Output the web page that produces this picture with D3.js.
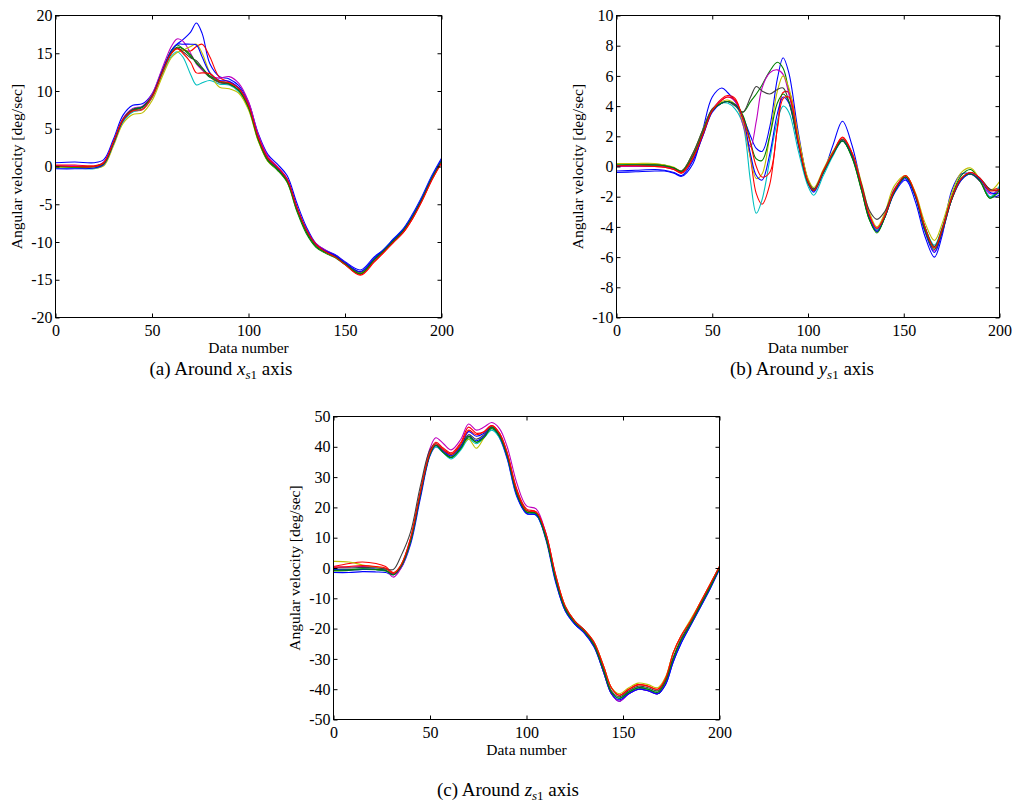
<!DOCTYPE html>
<html>
<head>
	<meta charset="UTF-8">
	<title>angular velocity</title>
	<style>
html, body {
	margin:0;padding:0;background:#fff;
}
text {
	font-family: "Liberation Serif", "Times New Roman", serif;
	fill: #000;
}
.axis text {font-size: 16px; font-family: "Liberation Serif", "Times New Roman", serif;}
.axis line {stroke: #000; stroke-width: 1;}
.axis path {display: none;}
.label {font-size: 15.5px;}
.caption {font-size: 19px;}
	</style>
	<script src="https://cdnjs.cloudflare.com/ajax/libs/d3/7.8.5/d3.min.js"></script>
</head>
<body>
<script>
// MATLAB (old) default line colour order, cycled
const COLORS = ['#0000ff', '#008000', '#ff0000', '#00bfbf', '#bf00bf', '#bfbf00', '#404040', '#0000ff', '#008000', '#ff0000'];
const X_TICKS = [0, 50, 100, 150, 200];
const Y_TICKS_A = [-20, -15, -10, -5, 0, 5, 10, 15, 20];
const Y_TICKS_B = [-10, -8, -6, -4, -2, 0, 2, 4, 6, 8, 10];
const Y_TICKS_C = [-50, -40, -30, -20, -10, 0, 10, 20, 30, 40, 50];

// (a) around x_s1 axis
const xsA = [0,10,20,25,30,35,40,45,50,55,60,63,66,70,73,76,80,85,90,95,100,105,110,115,120,125,130,135,140,145,150,158,165,170,175,180,185,190,195,200];
const a1 = [0.5,0.6,0.5,0.9,3.6,6.8,8.1,8.3,9.6,12.6,15.3,16.2,16.8,17.8,19.0,17.6,13.6,11.9,11.6,10.7,8.5,4.4,1.6,0.3,-1.2,-4.8,-8.0,-10.2,-11.1,-11.7,-12.6,-13.7,-12.0,-11.0,-9.6,-8.3,-6.3,-3.9,-1.2,1.1];
const a2 = [0.1,-0.1,-0.2,0.3,3.0,6.0,7.4,7.8,9.2,12.3,15.4,16.1,15.6,14.6,13.8,12.8,11.8,11.2,10.9,10.0,7.7,3.5,0.7,-0.5,-2.1,-5.9,-8.9,-10.7,-11.5,-12.1,-13.0,-14.2,-12.4,-11.1,-9.8,-8.6,-6.7,-4.3,-1.6,0.7];
const a3 = [0.2,0.2,0.1,0.5,3.1,6.1,7.3,7.5,9.1,12.1,14.9,15.6,15.4,15.3,15.9,16.2,14.5,11.8,11.2,10.4,8.2,4.0,1.2,-0.1,-1.7,-5.3,-8.4,-10.3,-11.2,-11.9,-12.9,-14.3,-12.6,-11.4,-10.0,-8.8,-6.9,-4.5,-1.8,0.5];
const a4 = [-0.2,-0.2,-0.3,0.2,2.9,5.9,7.2,7.6,9.1,12.0,14.6,15.2,14.5,12.2,10.8,11.1,11.4,10.9,10.8,9.9,7.7,3.6,0.9,-0.3,-1.9,-5.6,-8.6,-10.5,-11.4,-12.0,-12.9,-14.1,-12.3,-11.0,-9.7,-8.4,-6.5,-4.1,-1.4,0.8];
const a5 = [0.1,0.1,0.0,0.6,3.3,6.4,7.7,8.0,9.6,12.8,15.9,16.9,16.6,15.0,13.6,12.8,12.0,11.7,11.9,11.0,8.6,4.3,1.4,0.0,-1.6,-5.3,-8.3,-10.2,-11.1,-11.8,-12.7,-14.0,-12.4,-11.2,-9.9,-8.7,-6.8,-4.4,-1.7,0.6];
const a6 = [-0.1,-0.1,-0.2,0.1,2.7,5.7,6.9,7.1,8.7,11.7,14.4,15.1,15.4,15.9,16.2,15.0,12.4,10.5,10.3,9.7,7.5,3.4,0.7,-0.4,-2.0,-5.6,-8.6,-10.5,-11.4,-12.0,-12.9,-14.1,-12.3,-11.1,-9.8,-8.5,-6.6,-4.2,-1.5,0.8];
const a7 = [0.0,0.0,0.0,0.5,3.2,6.3,7.6,7.9,9.3,12.3,15.1,15.7,15.2,14.4,14.0,13.1,11.9,11.1,10.9,10.1,7.9,3.7,0.9,-0.3,-1.9,-5.5,-8.5,-10.4,-11.3,-11.9,-12.8,-14.0,-12.3,-11.1,-9.8,-8.5,-6.6,-4.2,-1.5,0.8];
const a8 = [-0.3,-0.3,-0.2,0.3,3.0,6.1,7.5,7.9,9.3,12.4,15.3,16.2,16.2,16.2,16.1,14.5,12.4,11.4,11.3,10.4,8.1,3.9,1.1,-0.2,-1.7,-5.4,-8.4,-10.3,-11.2,-11.8,-12.7,-13.9,-12.2,-11.0,-9.7,-8.4,-6.5,-4.1,-1.4,0.9];
const a9 = [0.0,-0.1,0.0,0.4,3.1,6.2,7.5,7.9,9.3,12.3,15.0,15.8,15.6,14.8,13.7,13.0,12.0,11.3,11.0,10.1,7.8,3.6,0.8,-0.4,-2.0,-5.7,-8.7,-10.6,-11.4,-12.0,-12.9,-14.2,-12.4,-11.2,-9.9,-8.6,-6.7,-4.3,-1.6,0.7];
const a10 = [0.1,0.0,0.0,0.5,3.2,6.2,7.4,7.6,9.2,12.2,15.0,15.6,15.0,13.8,12.4,12.4,12.3,11.3,11.1,10.3,8.1,3.9,1.1,-0.1,-1.7,-5.4,-8.4,-10.3,-11.3,-12.0,-13.0,-14.4,-12.7,-11.4,-10.1,-8.8,-6.9,-4.5,-1.8,0.5];

// (b) around y_s1 axis
const xsB = [0,10,20,25,30,34,40,45,50,55,58,62,66,70,73,76,80,84,87,90,95,100,103,108,113,118,123,128,132,136,140,145,151,156,161,166,170,175,180,185,190,195,200];
const b1 = [-0.4,-0.35,-0.3,-0.3,-0.45,-0.65,0.2,2.4,4.6,5.2,4.9,4.3,3.3,2.0,1.2,1.0,2.6,5.8,7.2,6.2,2.2,-0.9,-1.5,-0.4,1.4,3.0,1.4,-1.3,-3.4,-4.3,-3.4,-1.8,-0.9,-2.3,-4.6,-6.0,-4.6,-1.6,-0.5,-0.5,-1.0,-2.0,-1.9];
const b2 = [0.1,0.15,0.15,0.1,-0.1,-0.4,0.7,2.2,3.7,4.2,4.3,4.1,3.6,4.3,4.8,5.4,6.3,6.9,6.5,5.0,1.9,-0.9,-1.5,-0.4,0.8,1.7,0.6,-1.6,-3.5,-4.3,-3.4,-1.7,-0.7,-1.8,-4.0,-5.3,-4.2,-2.0,-0.6,-0.2,-1.0,-2.1,-1.4];
const b3 = [0.0,0.0,0.0,-0.05,-0.2,-0.45,0.5,2.0,3.7,4.5,4.7,4.5,3.0,0.5,-1.8,-2.5,-1.2,2.6,4.9,4.9,1.8,-1.1,-1.6,-0.3,0.9,1.95,0.9,-1.3,-3.2,-4.2,-3.3,-1.6,-0.6,-1.8,-4.0,-5.4,-4.2,-2.2,-0.9,-0.4,-0.8,-1.5,-1.4];
const b4 = [0.1,0.1,0.05,0.0,-0.1,-0.3,0.9,2.4,3.8,4.2,4.2,3.8,2.8,-1.0,-3.1,-2.2,0.4,3.0,4.0,3.6,1.0,-1.3,-1.9,-0.6,0.7,1.7,0.7,-1.5,-3.3,-4.2,-3.3,-1.6,-0.7,-1.9,-4.0,-5.2,-4.1,-2.1,-0.9,-0.5,-1.0,-2.0,-1.3];
const b5 = [0.0,0.0,0.05,0.0,-0.15,-0.35,0.8,2.3,3.8,4.4,4.6,4.3,2.8,1.3,3.0,5.2,6.2,6.4,6.1,4.8,1.9,-1.0,-1.6,-0.3,0.9,1.8,0.8,-1.4,-3.3,-4.1,-3.2,-1.5,-0.7,-1.9,-4.2,-5.6,-4.4,-2.2,-0.8,-0.5,-1.0,-1.8,-1.6];
const b6 = [0.2,0.2,0.2,0.1,-0.05,-0.3,0.9,2.4,3.8,4.3,4.4,4.1,3.0,0.6,-0.8,-0.5,2.0,5.0,6.0,5.2,2.0,-0.8,-1.4,-0.2,1.0,1.8,0.9,-1.1,-3.0,-4.0,-3.1,-1.3,-0.6,-1.7,-3.7,-4.9,-3.8,-1.8,-0.4,-0.1,-0.9,-1.6,-1.0];
const b7 = [0.05,0.1,0.1,0.05,-0.1,-0.3,0.9,2.4,3.8,4.2,4.3,4.0,3.6,4.6,5.3,5.0,4.8,5.1,5.2,4.3,1.5,-1.0,-1.5,-0.3,0.9,1.8,0.8,-1.2,-2.9,-3.5,-3.0,-1.6,-0.7,-1.9,-4.0,-5.3,-4.1,-2.1,-0.8,-0.4,-0.8,-1.5,-1.6];
const b8 = [-0.3,-0.25,-0.2,-0.25,-0.4,-0.6,0.4,2.0,3.6,4.2,4.3,4.1,3.2,0.8,-0.6,-0.9,0.8,3.5,4.6,4.2,1.4,-1.1,-1.7,-0.4,0.8,1.7,0.7,-1.5,-3.4,-4.3,-3.4,-1.7,-0.8,-2.0,-4.3,-5.7,-4.4,-2.2,-0.9,-0.5,-0.9,-1.7,-1.8];
const b9 = [0.1,0.1,0.1,0.05,-0.1,-0.35,0.7,2.2,3.7,4.2,4.3,4.1,3.4,1.6,0.5,0.4,2.0,4.2,4.8,4.3,1.5,-1.1,-1.6,-0.4,0.8,1.7,0.6,-1.6,-3.5,-4.4,-3.4,-1.7,-0.7,-1.9,-4.2,-5.5,-4.3,-2.2,-0.8,-0.5,-1.0,-2.1,-1.6];
const b10 = [0.05,0.05,0.0,-0.05,-0.2,-0.4,0.6,2.1,3.7,4.4,4.6,4.4,3.2,1.5,0.0,-0.7,-0.4,2.5,4.5,4.6,1.6,-1.0,-1.6,-0.3,0.9,1.9,0.9,-1.3,-3.2,-4.1,-3.3,-1.6,-0.6,-1.8,-4.0,-5.4,-4.2,-2.1,-0.8,-0.4,-0.8,-1.6,-1.5];

// (c) around z_s1 axis
const xsC = [0,8,15,22,27,31,35,40,45,50,53,57,61,66,70,74,78,82,86,90,95,100,105,110,115,120,125,130,135,140,144,148,153,158,163,168,172,176,180,185,190,195,200];
const c1 = [-1.5,-1.5,-1.2,-1.3,-1.5,-2.2,0.0,8.0,23.0,37.0,40.0,38.0,36.5,40.0,45.0,43.5,44.5,46.5,43.0,36.0,23.5,18.0,17.5,9.5,-4.5,-14.0,-18.5,-21.5,-26.0,-34.5,-41.5,-44.0,-41.5,-40.0,-40.5,-41.5,-38.5,-31.0,-25.0,-19.0,-13.0,-7.0,0.0];
const c2 = [-1.0,-0.8,-0.5,-0.6,-1.0,-2.0,0.5,9.0,24.0,37.5,40.5,38.5,36.5,39.5,43.0,41.5,43.5,46.0,43.5,37.0,24.5,18.5,18.0,10.0,-3.5,-13.5,-18.0,-21.0,-25.5,-34.0,-41.0,-43.0,-41.0,-39.5,-40.0,-41.5,-38.0,-30.0,-24.0,-18.5,-12.5,-6.5,0.0];
const c3 = [0.5,1.5,2.0,1.5,0.5,-1.5,1.0,10.0,25.0,38.5,41.5,39.5,38.0,41.5,46.5,44.5,45.0,47.0,44.5,38.0,26.0,19.5,18.5,11.5,-2.0,-12.5,-17.5,-20.5,-24.5,-32.5,-39.5,-42.0,-40.0,-38.5,-39.0,-40.0,-36.5,-28.0,-22.5,-17.5,-11.5,-5.5,0.5];
const c4 = [-0.5,-0.5,-0.3,-0.5,-0.8,-2.0,0.5,9.0,24.5,37.5,40.0,38.0,36.0,39.0,42.5,41.0,43.0,45.5,43.0,36.5,24.0,18.5,17.5,10.0,-3.5,-13.5,-18.0,-21.0,-25.5,-34.0,-41.0,-43.0,-41.0,-39.5,-40.0,-41.0,-37.5,-30.0,-24.0,-18.5,-12.5,-6.5,0.0];
const c5 = [0.3,0.3,0.5,0.3,-0.5,-3.0,0.0,9.0,25.0,39.5,43.0,41.0,39.0,42.5,47.5,45.5,46.5,48.0,46.0,40.0,28.0,20.5,19.5,11.5,-2.5,-13.0,-18.0,-21.0,-25.5,-34.5,-41.5,-44.0,-41.5,-40.0,-40.5,-41.5,-38.0,-30.0,-24.0,-18.5,-12.5,-6.5,0.0];
const c6 = [2.2,2.0,1.0,0.3,-0.3,-1.8,1.0,9.5,25.0,38.0,40.5,38.5,37.0,40.0,42.5,39.5,43.0,46.5,44.0,37.5,25.0,19.0,18.0,11.0,-2.5,-12.5,-17.5,-20.5,-24.5,-32.5,-39.5,-41.5,-39.5,-38.0,-38.5,-39.5,-36.0,-28.0,-22.5,-17.0,-11.5,-5.5,0.5];
const c7 = [0.0,0.0,0.2,0.0,-0.3,-0.5,4.0,12.0,27.0,39.0,41.0,39.0,37.5,40.5,44.0,42.5,44.0,46.5,44.0,37.5,25.0,19.0,18.0,10.5,-3.0,-13.0,-17.5,-20.5,-25.0,-33.5,-40.5,-42.5,-40.5,-39.0,-39.5,-40.5,-37.0,-29.5,-23.5,-18.0,-12.0,-6.0,0.5];
const c8 = [-0.5,-0.6,-0.5,-0.4,-0.8,-2.0,0.5,9.0,24.0,37.5,40.5,38.5,37.0,40.0,43.5,42.0,43.5,46.5,43.5,36.5,24.0,18.0,17.5,10.0,-4.0,-14.0,-18.5,-21.5,-26.0,-34.5,-41.5,-43.5,-41.5,-40.0,-40.5,-41.5,-38.5,-31.0,-25.0,-19.0,-13.0,-7.0,-0.5];
const c9 = [-0.8,-0.6,-0.3,-0.5,-0.8,-2.3,0.5,9.0,24.5,37.5,40.5,38.0,36.5,39.5,43.5,41.5,43.0,46.5,43.5,37.0,24.5,18.5,18.0,10.0,-3.5,-13.5,-18.0,-21.0,-25.5,-34.0,-41.0,-43.0,-41.0,-39.5,-40.0,-41.0,-37.5,-30.0,-24.0,-18.5,-12.5,-6.5,0.0];
const c10 = [0.3,0.5,0.8,0.5,0.0,-1.8,1.0,10.0,25.0,38.0,41.0,39.0,37.5,41.0,45.5,44.0,45.0,47.0,44.5,38.0,25.5,19.0,18.5,11.5,-2.0,-12.5,-17.5,-20.5,-24.5,-32.5,-39.5,-42.0,-40.0,-38.5,-39.0,-40.0,-36.5,-28.0,-22.5,-17.5,-11.5,-5.5,0.5];

const svg = d3.select(document.body).append('svg').attr('width', 1016).attr('height', 806);

function drawPanel(id, box, xs, series, yDomain, yTicks) {
	const x = d3.scaleLinear().domain([0, 200]).range([box.left, box.right]);
	const y = d3.scaleLinear().domain(yDomain).range([box.bottom, box.top]);
	const g = svg.append('g');

	g.append('clipPath').attr('id', 'clip-' + id)
		.append('rect')
		.attr('x', box.left).attr('y', box.top)
		.attr('width', box.right - box.left).attr('height', box.bottom - box.top);

	const line = d3.line()
		.x(d => x(d[0]))
		.y(d => y(d[1]))
		.curve(d3.curveCatmullRom.alpha(0.5));

	g.append('g').attr('clip-path', `url(#clip-${id})`)
		.selectAll('path').data(series).join('path')
		.attr('d', s => line(xs.map((v, i) => [v, s[i]])))
		.attr('fill', 'none')
		.attr('stroke', (s, i) => COLORS[i % COLORS.length])
		.attr('stroke-width', 1.1);

	const fmt = d => String(d);
	g.append('g').attr('class', 'axis').attr('transform', `translate(0,${box.bottom})`)
		.call(d3.axisBottom(x).tickValues(X_TICKS).tickSizeInner(-4).tickSizeOuter(0).tickPadding(7).tickFormat(fmt));
	g.append('g').attr('class', 'axis').attr('transform', `translate(0,${box.top})`)
		.call(d3.axisTop(x).tickValues(X_TICKS).tickSizeInner(-4).tickSizeOuter(0).tickFormat(''));
	g.append('g').attr('class', 'axis').attr('transform', `translate(${box.left},0)`)
		.call(d3.axisLeft(y).tickValues(yTicks).tickSizeInner(-4).tickSizeOuter(0).tickPadding(3).tickFormat(fmt));
	g.append('g').attr('class', 'axis').attr('transform', `translate(${box.right},0)`)
		.call(d3.axisRight(y).tickValues(yTicks).tickSizeInner(-4).tickSizeOuter(0).tickFormat(''));
	g.selectAll('.axis').attr('font-family', null).attr('font-size', null);

	g.append('rect')
		.attr('x', box.left).attr('y', box.top)
		.attr('width', box.right - box.left).attr('height', box.bottom - box.top)
		.attr('fill', 'none').attr('stroke', '#000').attr('stroke-width', 1);

	const cx = (box.left + box.right) / 2;
	g.append('text').attr('class', 'label')
		.attr('x', cx).attr('y', box.bottom + 35)
		.attr('text-anchor', 'middle')
		.text('Data number');
	g.append('text').attr('class', 'label')
		.attr('transform', `translate(${box.left - 34},${(box.top + box.bottom) / 2}) rotate(-90)`)
		.attr('text-anchor', 'middle')
		.text('Angular velocity [deg/sec]');
}

function caption(cx, cy, tag, axisLetter) {
	const t = svg.append('text').attr('class', 'caption')
		.attr('x', cx).attr('y', cy).attr('text-anchor', 'middle');
	t.append('tspan').text(`(${tag}) Around `);
	t.append('tspan').attr('font-style', 'italic').text(axisLetter);
	t.append('tspan').attr('font-style', 'italic').attr('font-size', '13px').attr('dy', 4).text('s');
	t.append('tspan').attr('font-size', '13px').text('1');
	t.append('tspan').attr('dy', -4).text(' axis');
}

drawPanel('a', {left: 55.5, right: 441.5, top: 15.5, bottom: 317.5}, xsA,
	[a1, a2, a3, a4, a5, a6, a7, a8, a9, a10], [-20, 20], Y_TICKS_A);
drawPanel('b', {left: 616.5, right: 999.5, top: 15.5, bottom: 317.5}, xsB,
	[b1, b2, b3, b4, b5, b6, b7, b8, b9, b10], [-10, 10], Y_TICKS_B);
drawPanel('c', {left: 333.5, right: 719.5, top: 416.5, bottom: 719.5}, xsC,
	[c1, c2, c3, c4, c5, c6, c7, c8, c9, c10], [-50, 50], Y_TICKS_C);

caption(221, 375, 'a', 'x');
caption(802, 375, 'b', 'y');
caption(508, 796, 'c', 'z');
</script>
</body>
</html>
